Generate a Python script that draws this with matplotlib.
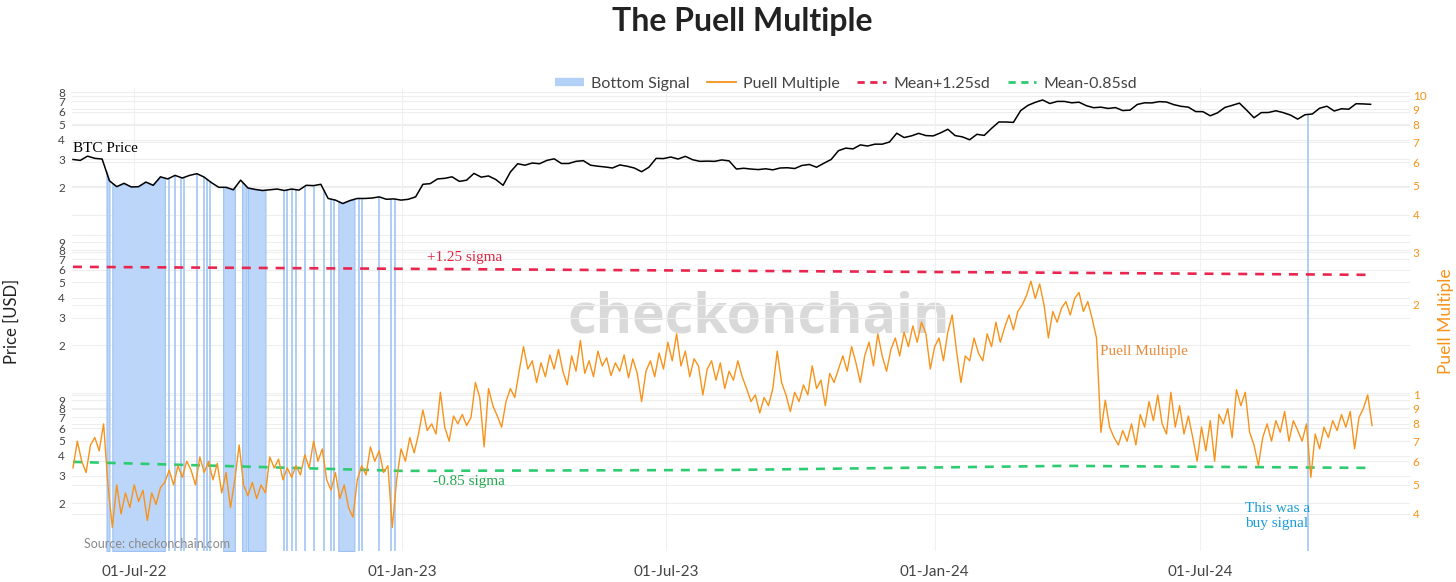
import numpy as np
import pandas as pd
import matplotlib
matplotlib.use("Agg")
import matplotlib.pyplot as plt
import matplotlib.dates as mdates
from matplotlib.lines import Line2D

plt.rcParams['font.family'] = ['Lato', 'DejaVu Sans']

W, H = 1456, 582

#--------------------------------------
# BTC price, one value every 5 days from 2022-05-20
btc_start = "2022-05-20"
btc_price = [
    30000, 29600, 31500, 30500, 30200, 22000, 20200, 21200, 20100, 20200,
    21600, 20600, 23300, 22600, 23800, 22900, 23800, 24400, 23200, 21400,
    20000, 20000, 19300, 22200, 19800, 19400, 19100, 19300, 19500, 19100,
    19500, 19200, 20600, 20500, 20900, 17000, 16600, 15800, 16500, 17000,
    17000, 17100, 17400, 16800, 16900, 16600, 16800, 17400, 20900, 21100,
    22600, 22800, 23300, 21800, 22200, 24500, 23200, 23600, 22400, 20600,
    25000, 28200, 27600, 28500, 28200, 29600, 30300, 28300, 28300, 29200,
    29500, 27600, 27200, 26900, 26500, 27700, 27200, 26500, 25100, 26800,
    30500, 30400, 31100, 30200, 31400, 29900, 29200, 29300, 29200, 29800,
    29400, 26100, 26400, 26100, 25900, 26200, 25800, 26500, 26600, 26300,
    27500, 27900, 26800, 28400, 30000, 34100, 35400, 35000, 37100, 36500,
    37500, 37500, 38700, 44000, 41300, 42300, 43900, 42500, 42300, 44200,
    46600, 42500, 41700, 40000, 43300, 42600, 47200, 51800, 51800, 51500,
    61200, 66000, 69000, 71400, 67800, 69900, 69900, 68500, 69100, 65700,
    63800, 64300, 63100, 63900, 61200, 61600, 66900, 68500, 68400, 69700,
    69300, 66700, 65100, 64300, 60300, 60200, 56700, 59200, 64000, 66000,
    68200, 61500, 55100, 59400, 59500, 61000, 59400, 57300, 54000, 57600,
    58200, 63300, 65200, 60800, 62800, 62400, 67600, 67400, 67000]

# Puell Multiple, one value every 3 days from 2022-05-20
puell_start = "2022-05-20"
puell = [
    0.57, 0.70, 0.60, 0.55, 0.68, 0.72, 0.65, 0.80, 0.50, 0.36,
    0.50, 0.40, 0.47, 0.42, 0.50, 0.44, 0.48, 0.38, 0.47, 0.43,
    0.49, 0.51, 0.56, 0.50, 0.58, 0.53, 0.60, 0.56, 0.50, 0.62,
    0.55, 0.60, 0.52, 0.59, 0.47, 0.55, 0.42, 0.52, 0.68, 0.50,
    0.46, 0.51, 0.45, 0.50, 0.47, 0.62, 0.57, 0.61, 0.52, 0.57,
    0.53, 0.58, 0.54, 0.63, 0.57, 0.70, 0.60, 0.66, 0.52, 0.48,
    0.55, 0.45, 0.50, 0.42, 0.39, 0.52, 0.58, 0.54, 0.67, 0.60,
    0.65, 0.55, 0.58, 0.36, 0.52, 0.66, 0.60, 0.72, 0.64, 0.74,
    0.89, 0.76, 0.80, 0.74, 1.02, 0.78, 0.70, 0.85, 0.80, 0.86,
    0.79, 0.84, 1.10, 0.98, 0.67, 1.05, 0.92, 0.85, 0.78, 0.95,
    1.05, 0.98, 1.20, 1.45, 1.22, 1.30, 1.10, 1.28, 1.15, 1.36,
    1.22, 1.42, 1.20, 1.08, 1.35, 1.20, 1.52, 1.18, 1.30, 1.15,
    1.40, 1.25, 1.33, 1.16, 1.28, 1.20, 1.36, 1.14, 1.32, 1.18,
    0.95, 1.20, 1.30, 1.15, 1.38, 1.22, 1.50, 1.30, 1.60, 1.25,
    1.40, 1.15, 1.32, 1.25, 1.00, 1.22, 1.30, 1.12, 1.28, 1.05,
    1.20, 1.12, 1.30, 1.15, 1.05, 0.95, 1.00, 0.87, 0.98, 0.92,
    1.05, 1.40, 1.10, 1.00, 0.88, 1.02, 0.95, 1.08, 1.00, 1.25,
    1.05, 1.12, 0.92, 1.18, 1.10, 1.22, 1.35, 1.20, 1.45, 1.28,
    1.10, 1.35, 1.50, 1.25, 1.60, 1.35, 1.20, 1.42, 1.55, 1.35,
    1.62, 1.45, 1.70, 1.50, 1.75, 1.60, 1.22, 1.45, 1.55, 1.30,
    1.62, 1.85, 1.40, 1.10, 1.35, 1.30, 1.55, 1.38, 1.30, 1.60,
    1.45, 1.75, 1.50, 1.68, 1.85, 1.65, 1.90, 2.00, 2.15, 2.40,
    2.10, 2.35, 2.00, 1.55, 1.90, 1.75, 1.95, 2.05, 1.85, 2.10,
    2.20, 1.90, 2.05, 1.80, 1.55, 0.75, 0.96, 0.78, 0.72, 0.68,
    0.76, 0.70, 0.80, 0.68, 0.86, 0.78, 0.95, 0.82, 1.00, 0.80,
    0.74, 1.02, 0.78, 0.92, 0.74, 0.85, 0.72, 0.60, 0.78, 0.65,
    0.82, 0.60, 0.86, 0.80, 0.90, 0.72, 1.04, 0.92, 1.02, 0.75,
    0.68, 0.58, 0.72, 0.80, 0.70, 0.82, 0.75, 0.88, 0.70, 0.82,
    0.76, 0.70, 0.80, 0.53, 0.74, 0.66, 0.78, 0.72, 0.82, 0.76,
    0.86, 0.78, 0.88, 0.66, 0.84, 0.90, 1.00, 0.79]

# rolling bands of the Puell Multiple
band_dates = ["2022-05-20", "2023-01-01", "2023-08-13", "2024-03-31", "2024-10-25"]
mean_plus = [2.68, 2.64, 2.60, 2.56, 2.52]
mean_minus = [0.597, 0.557, 0.561, 0.579, 0.570]

# bottom signal periods
signal_start = ["2022-06-12", "2022-06-16", "2022-07-25", "2022-07-29", "2022-08-02",
                "2022-08-04", "2022-08-13", "2022-08-18", "2022-08-20", "2022-08-22",
                "2022-08-31", "2022-09-13", "2022-09-17", "2022-10-12", "2022-10-14",
                "2022-10-17", "2022-10-20", "2022-10-26", "2022-11-01", "2022-11-08",
                "2022-11-13", "2022-11-15", "2022-11-18", "2022-12-02", "2022-12-04",
                "2022-12-16", "2022-12-24", "2022-12-27", "2024-09-13"]
signal_end = ["2022-06-14", "2022-07-22", "2022-07-25", "2022-07-29", "2022-08-02",
              "2022-08-04", "2022-08-13", "2022-08-18", "2022-08-20", "2022-08-22",
              "2022-09-08", "2022-09-16", "2022-09-29", "2022-10-12", "2022-10-14",
              "2022-10-17", "2022-10-20", "2022-10-26", "2022-11-01", "2022-11-08",
              "2022-11-13", "2022-11-15", "2022-11-29", "2022-12-02", "2022-12-04",
              "2022-12-16", "2022-12-24", "2022-12-27", "2024-09-13"]

x_ticks = ["2022-07-01", "2023-01-01", "2023-07-01", "2024-01-01", "2024-07-01"]
x_labels = ["01-Jul-22", "01-Jan-23", "01-Jul-23", "01-Jan-24", "01-Jul-24"]

left_ticks = [200, 300, 400, 500, 600, 700, 800, 900, 1000,
              2000, 3000, 4000, 5000, 6000, 7000, 8000, 9000, 10000,
              20000, 30000, 40000, 50000, 60000, 70000, 80000]
left_labels = ["2", "3", "4", "5", "6", "7", "8", "9", "",
               "2", "3", "4", "5", "6", "7", "8", "9", "",
               "2", "3", "4", "5", "6", "7", "8"]
right_ticks = [0.4, 0.5, 0.6, 0.7, 0.8, 0.9, 1, 2, 3, 4, 5, 6, 7, 8, 9, 10]
right_labels = ["4", "5", "6", "7", "8", "9", "1", "2", "3", "4", "5", "6", "7", "8", "9", "10"]

#--------------------------------------
ORANGE = "#f7931a"
RED = "#e8264f"
GREEN = "#2ecc71"
BLUE_FILL = "#bcd6fa"
BLUE_EDGE = "#9cc2f3"

btc_x = mdates.date2num(pd.date_range(btc_start, periods=len(btc_price), freq="5D"))
puell_x = mdates.date2num(pd.date_range(puell_start, periods=len(puell), freq="3D"))
band_x = mdates.date2num(pd.to_datetime(band_dates))

fig = plt.figure(figsize=(W / 100, H / 100), dpi=100)
ax = fig.add_axes([72 / W, 1 - 551 / H, (1410 - 72) / W, (551 - 88) / H])
ax2 = ax.twinx()

for a in (ax, ax2):
    a.set_yscale("log")
    for s in a.spines.values():
        s.set_visible(False)

ax.set_ylim(100, 85000)
ax2.set_ylim(0.3006, 10.62)
ax.set_xlim(mdates.date2num(pd.Timestamp("2022-05-19 08:00")),
            mdates.date2num(pd.Timestamp("2024-11-22")))

ax.set_yticks(left_ticks, left_labels)
ax2.set_yticks(right_ticks, right_labels)
ax.minorticks_off()
ax2.minorticks_off()
ax.set_xticks(mdates.date2num(pd.to_datetime(x_ticks)), x_labels)

ax.tick_params(axis="y", length=0, pad=5, labelsize=8.5, labelcolor="#444444")
ax2.tick_params(axis="y", length=0, pad=2, labelsize=8.5, labelcolor=ORANGE)
ax.tick_params(axis="x", length=0, pad=10, labelsize=11, labelcolor="#444444")

ax.grid(axis="y", color="#eeeeee", lw=0.8)
ax.grid(axis="x", color="#eef1f5", lw=0.8)
ax2.grid(axis="y", color="#eeeeee", lw=0.8)
ax2.set_axisbelow(True)

# bottom signal bands (price axis coordinates, drawn on the top axes)
for s, e in zip(signal_start, signal_end):
    xs = mdates.date2num(pd.date_range(s, e))
    tops = np.interp(xs, btc_x, btc_price)
    if len(xs) == 1:
        ax2.vlines(xs, 100, tops, color="#a9c9f5", lw=1.3, transform=ax.transData, zorder=1)
    else:
        ax2.fill_between(xs, 100, tops, facecolor=BLUE_FILL, edgecolor=BLUE_EDGE,
                         lw=0.8, transform=ax.transData, zorder=1)

ax2.plot(btc_x, btc_price, color="black", lw=1.1, transform=ax.transData, zorder=4)
ax2.plot(band_x, mean_plus, color=RED, lw=1.9, dashes=(3.4, 3.0), zorder=3)
ax2.plot(band_x, mean_minus, color=GREEN, lw=1.9, dashes=(3.4, 3.0), zorder=3)
ax2.plot(puell_x, puell, color=ORANGE, lw=1.0, zorder=5)

ax2.set_ylim(0.3006, 10.62)
ax.set_ylim(100, 85000)

# watermark and annotations
ax.text(0.513, 0.503, "checkonchain", transform=ax.transAxes, ha="center", va="center",
        fontsize=40, fontweight="bold", color="#d9d9d9", family=["Open Sans", "DejaVu Sans"],
        zorder=0)

serif = ["Liberation Serif", "DejaVu Serif"]
fig.text(73 / W, 1 - 148 / H, "BTC Price", ha="left", va="center", fontsize=11,
         color="black", family=serif)
fig.text(427 / W, 1 - 258 / H, "+1.25 sigma", ha="left", va="center", fontsize=11,
         color="#e02440", family=serif)
fig.text(433 / W, 1 - 481 / H, "-0.85 sigma", ha="left", va="center", fontsize=11,
         color="#22a84f", family=serif)
fig.text(1100 / W, 1 - 352 / H, "Puell Multiple", ha="left", va="center", fontsize=11,
         color="#ea8a3a", family=serif)
fig.text(1245 / W, 1 - 516 / H, "This was a\nbuy signal", ha="left", va="center",
         fontsize=11, color="#1a9cd8", family=serif, linespacing=1.15)
fig.text(84 / W, 1 - 544 / H, "Source: checkonchain.com", ha="left", va="center",
         fontsize=9, color="#8a8a8a")

fig.text(742 / W, 1 - 22 / H, "The Puell Multiple", ha="center", va="center",
         fontsize=23, fontweight="bold", color="#222222")
fig.text(12 / W, 1 - 321 / H, "Price [USD]", rotation=90, ha="center", va="center",
         fontsize=12, color="#222222")
fig.text(1446 / W, 1 - 321 / H, "Puell Multiple", rotation=90, ha="center", va="center",
         fontsize=12.5, color=ORANGE)

handles = [Line2D([], [], color="#b3d0f7", lw=6, solid_capstyle="butt"),
           Line2D([], [], color=ORANGE, lw=1.3),
           Line2D([], [], color=RED, lw=2, dashes=(2.6, 2)),
           Line2D([], [], color=GREEN, lw=2, dashes=(2.6, 2))]
labels = ["Bottom Signal", "Puell Multiple", "Mean+1.25sd", "Mean-0.85sd"]
fig.legend(handles, labels, loc="center", bbox_to_anchor=(846 / W, 1 - 84 / H), ncol=4,
           frameon=False, fontsize=11.5, handlelength=1.8, handletextpad=0.45,
           columnspacing=1.1, labelcolor="#444444")

fig.savefig("out.png", dpi=100)
